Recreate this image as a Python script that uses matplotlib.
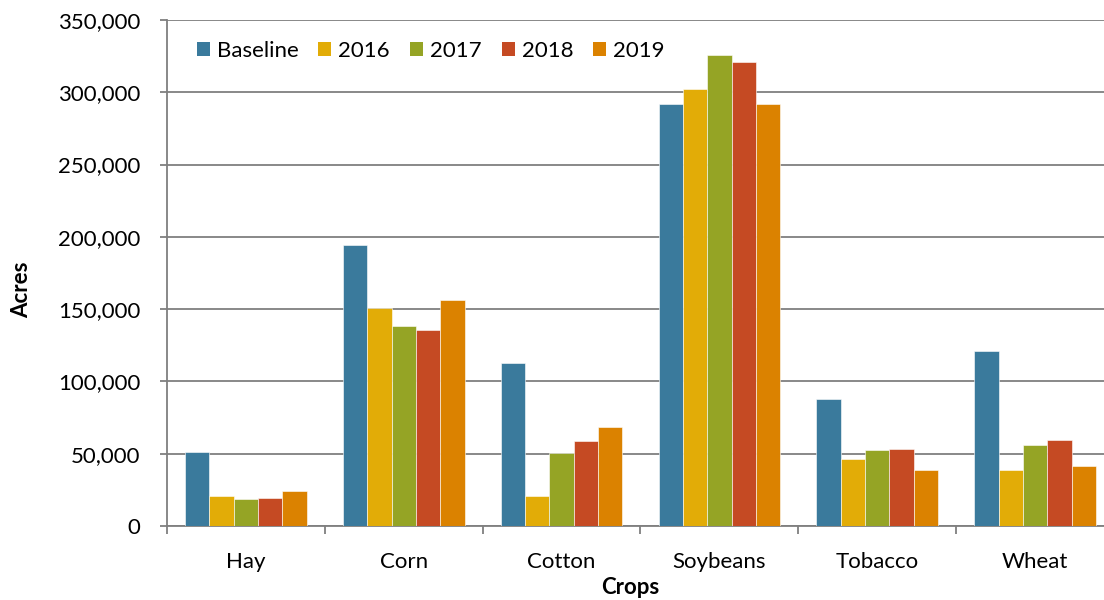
import numpy as np
import matplotlib.pyplot as plt
from matplotlib.patches import Patch

crops = ["Hay", "Corn", "Cotton", "Soybeans", "Tobacco", "Wheat"]
series = ["Baseline", "2016", "2017", "2018", "2019"]

baseline = [51000, 194500, 113000, 292000, 88000, 121000]
y2016 = [21000, 151000, 20500, 302000, 46000, 38500]
y2017 = [18500, 138500, 50500, 325500, 52500, 56000]
y2018 = [19500, 135500, 59000, 321000, 53000, 59500]
y2019 = [24000, 156500, 68500, 292000, 38500, 41500]

colors = ["#3a7a9c", "#e2ac07", "#95a425", "#c54a23", "#db8200"]

plt.rcParams["font.family"] = ["Lato", "DejaVu Sans"]

fig = plt.figure(figsize=(11.04, 6), dpi=100)
# the plot area runs past the right edge of the picture, as in the original
ax = fig.add_axes([167 / 1104, 74 / 600, 947 / 1104, 506 / 600])

x = np.arange(len(crops))
w = 0.154
for k, (name, vals) in enumerate(zip(series, [baseline, y2016, y2017, y2018, y2019])):
    ax.bar(x + (k - 2) * w, vals, width=w, color=colors[k],
           edgecolor="white", linewidth=0.4, zorder=3, label=name)

ax.set_xlim(-0.5, 5.5)
ax.set_ylim(0, 350000)
ax.set_yticks(np.arange(0, 350001, 50000))
ax.set_yticklabels([f"{v:,}" for v in range(0, 350001, 50000)])
ax.grid(axis="y", color="#7f7f7f", linewidth=1.3, zorder=0)

ax.set_xticks(np.arange(-0.5, 6, 1))
ax.set_xticklabels([])
ax.set_xticks(x, minor=True)
ax.set_xticklabels(crops, minor=True)
ax.tick_params(axis="x", which="major", length=6, width=1.3, color="#7f7f7f")
ax.tick_params(axis="x", which="minor", length=0, pad=19, labelsize=16)
ax.tick_params(axis="y", length=5, width=1.3, color="#7f7f7f", pad=14, labelsize=16)

for s in ["top", "right"]:
    ax.spines[s].set_visible(False)
for s in ["left", "bottom"]:
    ax.spines[s].set_color("#7f7f7f")
    ax.spines[s].set_linewidth(1.3)

handles = [Patch(facecolor=c, edgecolor="none") for c in colors]
ax.legend(handles, series, loc="upper left", bbox_to_anchor=(0.022, 0.976), ncol=5,
          frameon=False, fontsize=16, handlelength=0.58, handleheight=0.58,
          handletextpad=0.32, columnspacing=0.9, borderaxespad=0)

fig.text(630 / 1104, 1 - 588 / 600, "Crops", ha="center", va="center",
         fontsize=16, fontweight="bold")
fig.text(22 / 1104, 1 - 290 / 600, "Acres", ha="center", va="center",
         rotation=90, fontsize=16, fontweight="bold")

fig.savefig("out.png", dpi=100)
